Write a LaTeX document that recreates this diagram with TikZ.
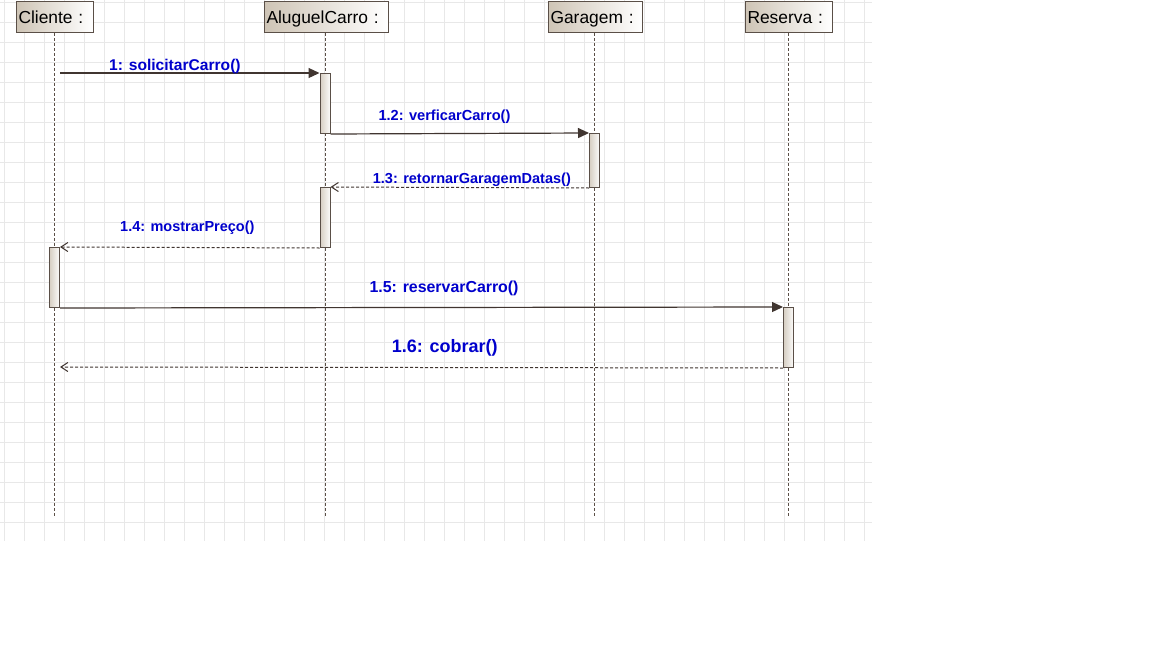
\documentclass[tikz,border=0pt]{standalone}
\usepackage{fontspec}
\setmainfont{Liberation Sans}
\usetikzlibrary{arrows.meta}
\definecolor{gridc}{RGB}{232,232,232}
\definecolor{edge}{RGB}{90,79,71}
\definecolor{lin}{RGB}{64,53,48}
\definecolor{lab}{RGB}{0,0,204}
\definecolor{hdrtan}{RGB}{206,196,181}
\definecolor{actl}{RGB}{214,206,194}
\begin{document}
\begin{tikzpicture}[x=1pt,y=-1pt,
  gridline/.style={draw=gridc, line width=1pt},
  hdr/.style={draw=edge, line width=1pt, left color=hdrtan, right color=white,
    minimum height=31pt, inner xsep=2.5pt, inner ysep=0pt, align=left,
    text height=14.3pt, text depth=1.7pt, font=\fontsize{17.4}{18}\selectfont, anchor=west},
  life/.style={draw=edge, line width=1pt, dash pattern=on 3pt off 2pt},
  act/.style={draw=edge, line width=1pt, left color=actl, right color=white!92!actl,
    minimum width=10pt, inner sep=0pt, anchor=north},
  sync/.style={draw=lin, line width=1.2pt, -{Triangle[length=11pt,width=10pt]}},
  ret/.style={draw=lin, line width=1pt, dash pattern=on 3pt off 2pt,
    -{Straight Barb[length=7pt,width=9pt,line width=1pt]}},
  lbl/.style={text=lab, anchor=base west, inner sep=0pt}
]
\useasboundingbox[fill=white] (0,0) rectangle (1152,648);
% grid
\foreach \x in {4,24,...,864} \draw[gridline] (\x,0) -- (\x,541);
\foreach \y in {2,22,...,522} \draw[gridline] (0,\y) -- (872,\y);

% headers
\node[hdr, text width=72pt] (hC) at (15.5,17) {Cliente :};
\node[hdr, text width=119pt] (hA) at (263.5,17) {AluguelCarro :};
\node[hdr, text width=89pt] (hG) at (547.5,17) {Garagem :};
\node[hdr, text width=82pt] (hR) at (744.5,17) {Reserva :};

% lifeline ends
\coordinate (eC) at (54.5,516);
\coordinate (eA) at (325,516);
\coordinate (eG) at (594.5,516);
\coordinate (eR) at (788.5,516);
\draw[life] (eC |- hC.south) -- (eC);
\draw[life] (eA |- hA.south) -- (eA);
\draw[life] (eG |- hG.south) -- (eG);
\draw[life] (eR |- hR.south) -- (eR);

% activations
\node[act, minimum height=60pt] (a1) at (325,73) {};
\node[act, minimum height=54pt] (g1) at (594.5,133) {};
\node[act, minimum height=60pt] (a2) at (325,187) {};
\node[act, minimum height=60pt] (c1) at (54.5,247) {};
\node[act, minimum height=60pt] (r1) at (788.5,307) {};

% messages
\coordinate (m1) at (60,73);
\coordinate (m6) at (60,367);
\draw[sync] (m1) -- (a1.north west);
\draw[sync] (a1.south east) -- (g1.north west);
\draw[ret] (g1.south west) -- (a2.north east);
\draw[ret] (a2.south west) -- (c1.north east);
\draw[sync] (c1.south east) -- (r1.north west);
\draw[ret] (r1.south west) -- (m6);

% labels
\node[lbl, font=\bfseries\fontsize{15.6}{18}\selectfont] (l1) at (109,70) {1: solicitarCarro()};
\node[lbl, font=\bfseries\fontsize{14.6}{17}\selectfont] (l2) at (378.3,120) {1.2: verficarCarro()};
\node[lbl, font=\bfseries\fontsize{14.5}{17}\selectfont] (l3) at (372.7,183.3) {1.3: retornarGaragemDatas()};
\node[lbl, font=\bfseries\fontsize{14.5}{17}\selectfont] (l4) at (120,231.7) {1.4: mostrarPreço()};
\node[lbl, font=\bfseries\fontsize{15.9}{18}\selectfont] (l5) at (369.3,292.3) {1.5: reservarCarro()};
\node[lbl, font=\bfseries\fontsize{18}{20}\selectfont] (l6) at (391.7,352.3) {1.6: cobrar()};
\end{tikzpicture}
\end{document}
